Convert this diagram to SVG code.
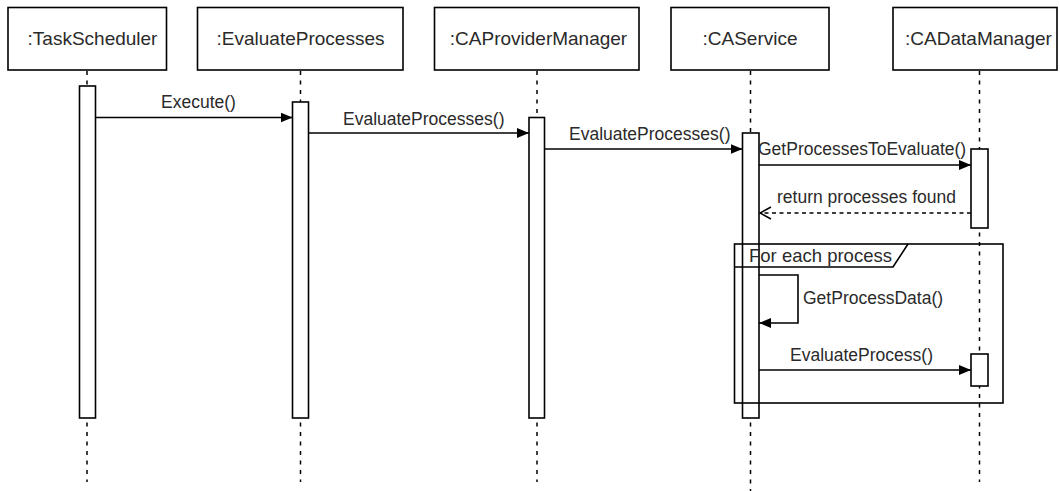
<svg xmlns="http://www.w3.org/2000/svg" width="1060" height="491" viewBox="0 0 1060 491">
  <defs>
    <marker id="arrow-filled" viewBox="0 0 12 10" refX="12" refY="5" markerWidth="12" markerHeight="10" markerUnits="userSpaceOnUse" orient="auto">
      <path d="M0,0 L12,5 L0,10 Z" fill="#000"/>
    </marker>
    <marker id="arrow-open" viewBox="0 0 14 14" refX="13" refY="7" markerWidth="14" markerHeight="14" markerUnits="userSpaceOnUse" orient="auto">
      <path d="M2,1 L13,7 L2,13" fill="none" stroke="#000" stroke-width="1.5"/>
    </marker>
    <style>
      .head { fill: #fff; stroke: #000; stroke-width: 1.6; }
      .head-text { font-family: "Liberation Sans", Arial, sans-serif; font-size: 19px; fill: #2a2a2a; text-anchor: middle; }
      .lifeline { stroke: #000; stroke-width: 1.5; stroke-dasharray: 4 5.5; fill: none; }
      .act { fill: #fff; stroke: #000; stroke-width: 1.6; }
      .msg { stroke: #000; stroke-width: 1.6; fill: none; marker-end: url(#arrow-filled); }
      .ret { stroke: #000; stroke-width: 1.5; fill: none; stroke-dasharray: 4 3.5; marker-end: url(#arrow-open); }
      .label { font-family: "Liberation Sans", Arial, sans-serif; font-size: 17.5px; fill: #2a2a2a; }
      .frame { fill: none; stroke: #000; stroke-width: 1.6; }
    </style>
  </defs>
  <rect width="1060" height="491" fill="#fff"/>

  <!-- lifelines -->
  <g id="lifelines">
    <line class="lifeline" x1="87" y1="71" x2="87" y2="482"/>
    <line class="lifeline" x1="300.5" y1="71" x2="300.5" y2="482"/>
    <line class="lifeline" x1="537" y1="71" x2="537" y2="482"/>
    <line class="lifeline" x1="750.5" y1="71" x2="750.5" y2="491"/>
    <line class="lifeline" x1="979.5" y1="71" x2="979.5" y2="482"/>
  </g>

  <!-- participants -->
  <g id="taskScheduler">
    <rect class="head" x="8" y="7.5" width="158.5" height="62.5"/>
    <text class="head-text" x="92.5" y="45">:TaskScheduler</text>
    <rect class="act" x="79.5" y="86" width="16" height="332"/>
  </g>
  <g id="evaluateProcesses">
    <rect class="head" x="197.5" y="7.5" width="205.5" height="62.5"/>
    <text class="head-text" x="300.5" y="45">:EvaluateProcesses</text>
    <rect class="act" x="292.5" y="102" width="16" height="316"/>
  </g>
  <g id="caProviderManager">
    <rect class="head" x="434.5" y="7.5" width="204.5" height="62.5"/>
    <text class="head-text" x="538.5" y="45">:CAProviderManager</text>
    <rect class="act" x="529" y="117.5" width="15.5" height="300.5"/>
  </g>
  <g id="caService">
    <rect class="head" x="671" y="7.5" width="158" height="62.5"/>
    <text class="head-text" x="750" y="45">:CAService</text>
    <rect class="act" x="742.5" y="133" width="16.5" height="285"/>
  </g>
  <g id="caDataManager">
    <rect class="head" x="893" y="7.5" width="164" height="62.5"/>
    <text class="head-text" x="978.5" y="45">:CADataManager</text>
    <rect class="act" x="971" y="149" width="17" height="79"/>
    <rect class="act" x="971" y="354" width="17" height="32"/>
  </g>

  <!-- loop fragment -->
  <g id="loopFrame">
    <rect class="frame" x="734.5" y="244" width="268.5" height="159"/>
    <path class="frame" d="M734.5,267 L893,267 L908,244"/>
    <text class="label" x="749" y="262" style="font-size:18.5px">For each process</text>
  </g>

  <!-- messages -->
  <g id="connectors">
    <line class="msg" x1="95.5" y1="117.5" x2="292.5" y2="117.5"/>
    <text class="label" x="161" y="108">Execute()</text>

    <line class="msg" x1="308.5" y1="133" x2="529" y2="133"/>
    <text class="label" x="343" y="125">EvaluateProcesses()</text>

    <line class="msg" x1="544.5" y1="149" x2="742.5" y2="149"/>
    <text class="label" x="569" y="140">EvaluateProcesses()</text>

    <line class="msg" x1="759" y1="165" x2="971" y2="165"/>
    <text class="label" x="758" y="155">GetProcessesToEvaluate()</text>

    <line class="ret" x1="971" y1="213" x2="760" y2="213"/>
    <text class="label" x="777" y="203">return processes found</text>

    <path class="msg" d="M759,275 L798,275 L798,323 L759,323"/>
    <text class="label" x="803" y="304">GetProcessData()</text>

    <line class="msg" x1="759" y1="370" x2="971" y2="370"/>
    <text class="label" x="790" y="361">EvaluateProcess()</text>
  </g>
</svg>
